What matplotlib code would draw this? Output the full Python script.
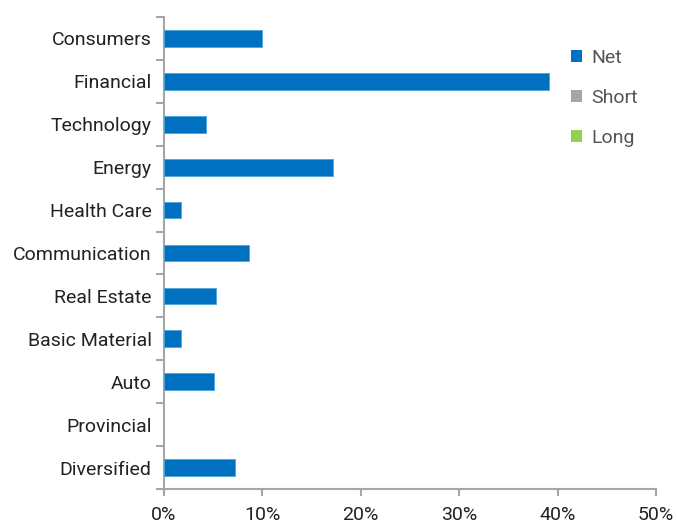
import matplotlib
matplotlib.use("Agg")
import matplotlib.pyplot as plt
import numpy as np
from matplotlib.patches import Patch

categories = ["Consumers", "Financial", "Technology", "Energy", "Health Care",
              "Communication", "Real Estate", "Basic Material", "Auto",
              "Provincial", "Diversified"]
net = [10.0, 39.1, 4.3, 17.2, 1.7, 8.6, 5.3, 1.7, 5.1, 0.0, 7.2]
short = [0.0] * 11
long_ = [0.0] * 11
xticks = [0, 10, 20, 30, 40, 50]

plt.rcParams['font.family'] = ['Roboto', 'DejaVu Sans']

fig = plt.figure(figsize=(6.77, 5.23), dpi=100)
ax = fig.add_axes([164/677, 1 - 489/523, (656-164)/677, (489-17)/523])

n = len(categories)
y = np.arange(n)
edges = ["#4FA3D9" if v > 0 else "none" for v in net]
ax.barh(y, net, height=0.39, color="#0070C0", edgecolor=edges, linewidth=0.6, zorder=3)

ax.set_ylim(n - 0.5, -0.5)
ax.set_xlim(0, 50)
ax.set_xticks(xticks)
ax.set_xticklabels([f"{v}%" for v in xticks])
ax.set_yticks(y)
ax.set_yticklabels(categories)
ax.set_yticks(np.arange(n + 1) - 0.5, minor=True)

gray = "#A6A6A6"
for s in ["top", "right"]:
    ax.spines[s].set_visible(False)
for s in ["left", "bottom"]:
    ax.spines[s].set_color(gray)
    ax.spines[s].set_linewidth(1.5)

fs = 14
ax.tick_params(axis="y", which="major", length=0, pad=9, labelsize=fs, labelcolor="#222222")
ax.tick_params(axis="y", which="minor", length=6, width=1.5, color=gray)
ax.tick_params(axis="x", which="major", length=5, width=1.5, color=gray, pad=7,
               labelsize=fs, labelcolor="#222222")

handles = [Patch(facecolor="#0070C0", label="Net"),
           Patch(facecolor="#A6A6A6", label="Short"),
           Patch(facecolor="#92D050", label="Long")]
leg = ax.legend(handles=handles, loc="upper left", bbox_to_anchor=(0.795, 0.965),
                frameon=False, handlelength=0.6, handleheight=0.6, handletextpad=0.45,
                labelspacing=1.12, fontsize=fs, borderpad=0.3)
for t in leg.get_texts():
    t.set_color("#555555")

fig.savefig("out.png", dpi=100)
